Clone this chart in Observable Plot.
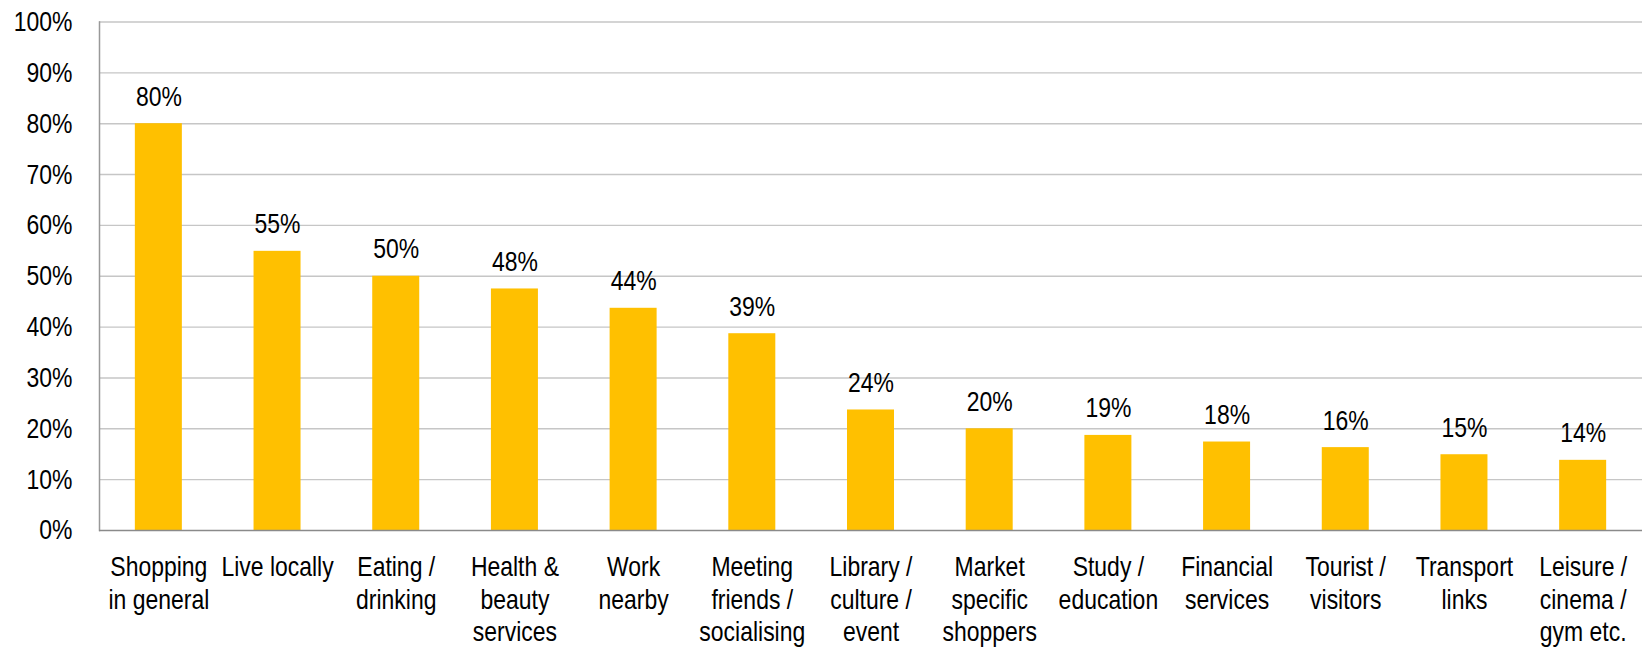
<!DOCTYPE html>
<html>
<head>
<meta charset="utf-8">
<script src="https://cdn.jsdelivr.net/npm/d3@7"></script>
<script src="https://cdn.jsdelivr.net/npm/@observablehq/plot@0.6"></script>
<style>
  html, body { margin: 0; padding: 0; background: #fff; }
  #chart svg { display: block; }
</style>
</head>
<body>
<div id="chart"></div>
<script>
// Data
const categories = [
  "Shopping\nin general",
  "Live locally",
  "Eating /\ndrinking",
  "Health &\nbeauty\nservices",
  "Work\nnearby",
  "Meeting\nfriends /\nsocialising",
  "Library /\nculture /\nevent",
  "Market\nspecific\nshoppers",
  "Study /\neducation",
  "Financial\nservices",
  "Tourist /\nvisitors",
  "Transport\nlinks",
  "Leisure /\ncinema /\ngym etc."
];
const values = [0.80, 0.549, 0.50, 0.475, 0.437, 0.387, 0.237, 0.20, 0.187, 0.174, 0.163, 0.149, 0.138];
const valueLabels = ["80%", "55%", "50%", "48%", "44%", "39%", "24%", "20%", "19%", "18%", "16%", "15%", "14%"];
const yTicks = [0, 0.1, 0.2, 0.3, 0.4, 0.5, 0.6, 0.7, 0.8, 0.9, 1.0];

const data = categories.map((c, i) => ({category: c, value: values[i], label: valueLabels[i]}));

const FONT = "'Liberation Sans', Arial, sans-serif";

const chart = Plot.plot({
  width: 1646,
  height: 648,
  marginLeft: 99,
  marginRight: 4,
  marginTop: 21.5,
  marginBottom: 118,
  style: {fontFamily: FONT, fontSize: "28px", color: "#000", background: "#fff"},
  x: {domain: categories, paddingInner: 0.604, paddingOuter: 0.302, align: 0.5, round: false, axis: null, label: null},
  y: {domain: [0, 1], axis: null, label: null},
  marks: [
    Plot.gridY(yTicks.filter(d => d > 0), {stroke: "#c6c6c6", strokeOpacity: 1, strokeWidth: 1.4}),
    Plot.barY(data, {x: "category", y: "value", fill: "#FFC000"}),
    Plot.frame({anchor: "left", stroke: "#999999", strokeWidth: 1.5}),
    Plot.ruleY([0], {stroke: "#8a8a8a", strokeWidth: 1.5}),
    Plot.axisY({ticks: yTicks, tickSize: 0, tickPadding: 27, tickFormat: d3.format(".0%"), fontSize: 28, fill: "#000", label: null}),
    Plot.text(data, {x: "category", y: "value", text: "label", lineAnchor: "bottom", dy: -18, fontSize: 28, fill: "#000"}),
    Plot.text(data, {x: "category", y: () => 0, text: "category", lineAnchor: "top", dy: 23, lineHeight: 1.15, fontSize: 28, fill: "#000"})
  ]
});

// The reference uses a narrow (Arial Narrow–like) face: compress glyphs horizontally about each anchor.
chart.querySelectorAll("text").forEach(t => {
  const x = +(t.getAttribute("x") || 0);
  const tr = t.getAttribute("transform") || "";
  t.setAttribute("transform", `${tr} translate(${x},0) scale(0.82,1) translate(${-x},0)`.trim());
});

document.getElementById("chart").appendChild(chart);
</script>
</body>
</html>
